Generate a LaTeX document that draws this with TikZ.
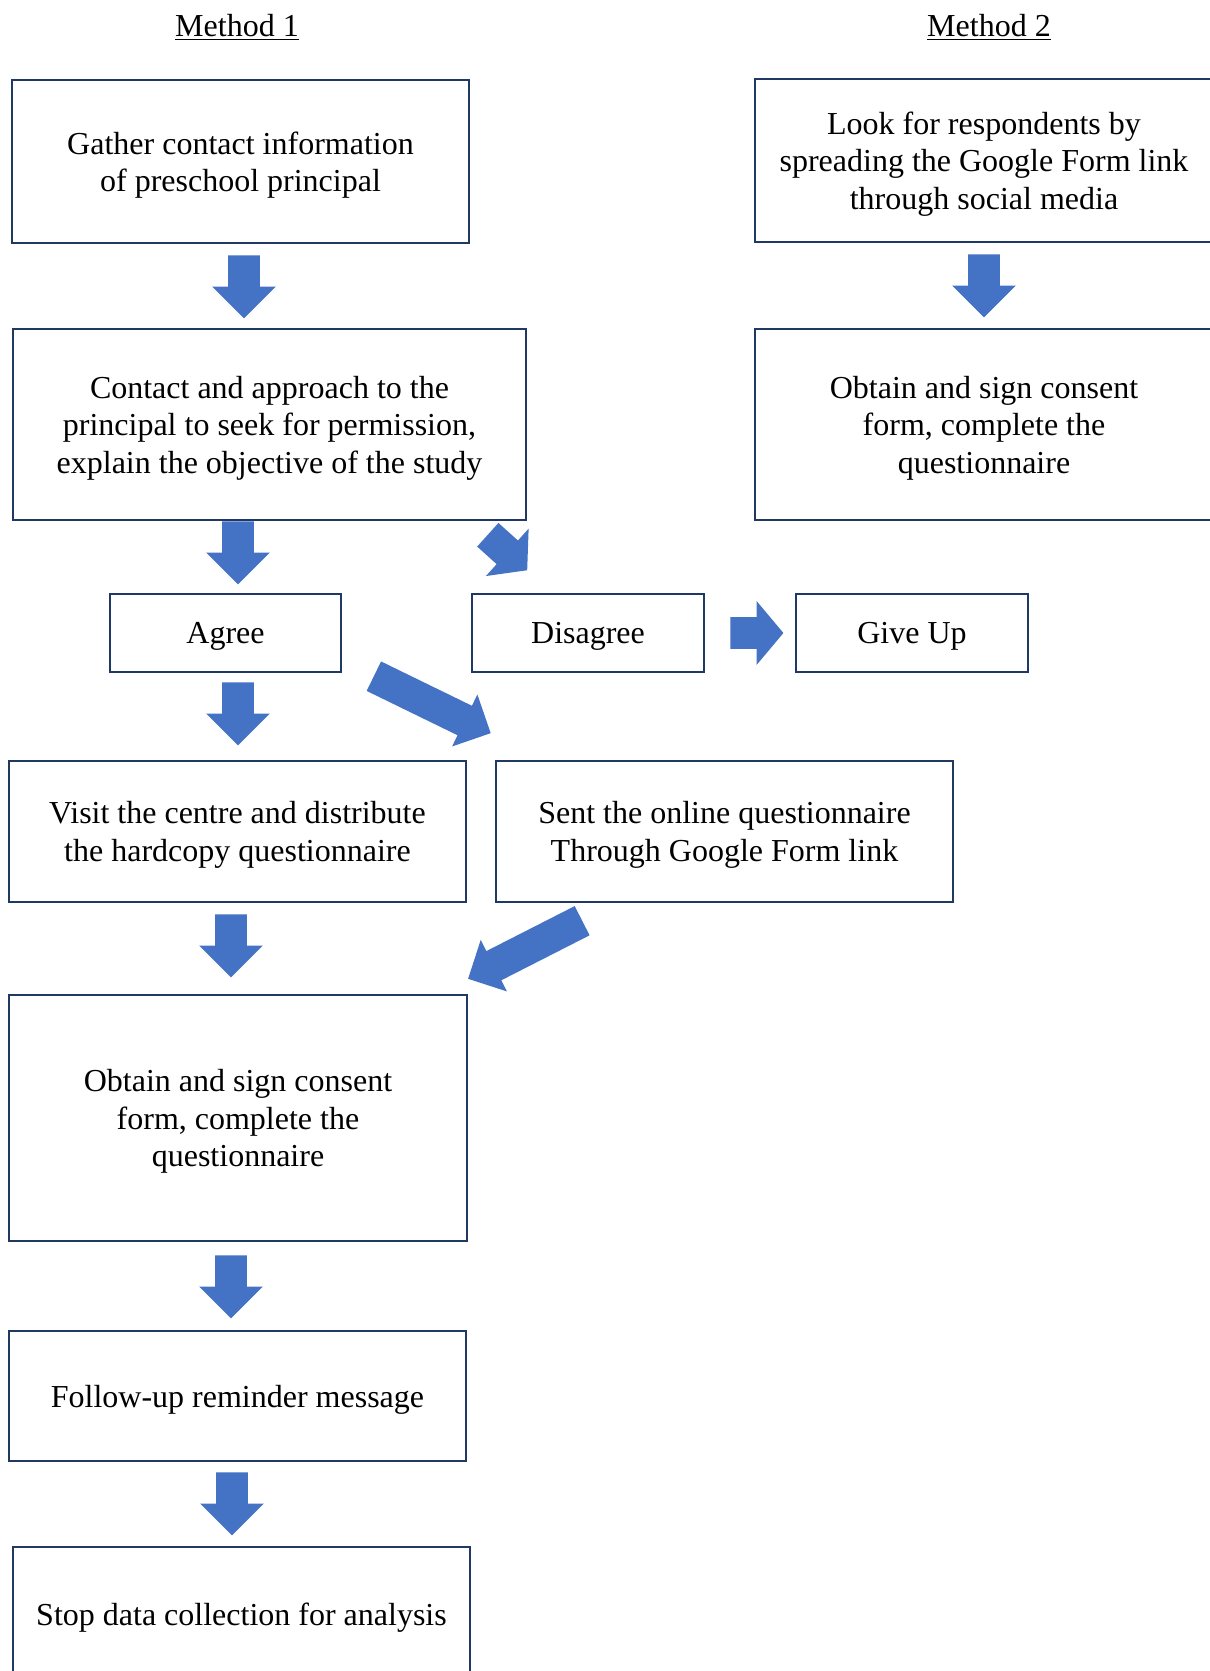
\documentclass[tikz,border=0pt]{standalone}
\usepackage{fontspec}
\setmainfont{Liberation Serif}
\usetikzlibrary{shapes, arrows, positioning}
\definecolor{boxblue}{HTML}{1F3864}
\definecolor{arrowblue}{HTML}{4472C4}
\tikzstyle{process}=[draw=boxblue,line width=1.4pt,minimum width=228.5pt,align=center,inner sep=0pt,text depth=0pt,font=\fontsize{16}{18.7}\selectfont]
\tikzstyle{choice}=[process,minimum width=116pt,minimum height=39pt]
\tikzstyle{title}=[anchor=base,inner sep=0pt,font=\fontsize{16}{18.7}\selectfont]
\tikzstyle{blockarrow}=[single arrow,anchor=tail,fill=arrowblue,draw=none,inner xsep=0pt,inner ysep=7.75pt,minimum width=31.5pt,single arrow head extend=8pt,single arrow tip angle=90,minimum height=31.5pt]

\begin{document}
\begin{tikzpicture}[x=0.5pt,y=-0.5pt]
\useasboundingbox (0,0) rectangle (1210,1671);
\clip (0,0) rectangle (1210,1671);
% Titles
\node[title] (m1) at (237,36) {\underline{Method 1}};
\node[title] (m2) at (989,36) {\underline{Method 2}};
% Method 1
\node[process,minimum height=81.5pt] (gather) at (240.5,161.5) {Gather contact information\\of preschool principal};
\node[process,minimum width=256.5pt,minimum height=95.5pt] (contact) at (269.5,424.5) {Contact and approach to the\\principal to seek for permission,\\explain the objective of the study};
\node[choice,minimum width=115.5pt] (agree) at (225.5,633) {Agree};
\node[choice] (disagree) at (588,633) {Disagree};
\node[choice] (giveup) at (912,633) {Give Up};
\node[process,minimum height=70.5pt] (visit) at (237.5,831.5) {Visit the centre and distribute\\the hardcopy questionnaire};
\node[process,minimum height=70.5pt] (sent) at (724.5,831.5) {Sent the online questionnaire\\Through Google Form link};
\node[process,minimum width=229pt,minimum height=123pt] (obtainA) at (238,1118) {Obtain and sign consent\\form, complete the\\questionnaire};
\node[process,minimum height=65pt] (follow) at (237.5,1396) {Follow-up reminder message};
\node[process,minimum height=67pt] (stop) at (241.5,1614) {Stop data collection for analysis};
% Method 2
\node[process,minimum width=229pt,minimum height=81.5pt] (look) at (984,160.5) {Look for respondents by\\spreading the Google Form link\\through social media};
\node[process,minimum width=229pt,minimum height=95.5pt] (obtainB) at (984,424.5) {Obtain and sign consent\\form, complete the\\questionnaire};
% Arrows (placed by their tails)
\node[blockarrow,rotate=-90] (a1) at (244,255) {};
\node[blockarrow,rotate=-90] (a2) at (984,254) {};
\node[blockarrow,rotate=-90] (a3) at (238,521) {};
\node[blockarrow,rotate=-90] (a4) at (238,682) {};
\node[blockarrow,rotate=-90] (a5) at (231,914) {};
\node[blockarrow,rotate=-90] (a6) at (231,1255) {};
\node[blockarrow,rotate=-90] (a7) at (232,1472) {};
\node[blockarrow,minimum height=26.5pt,single arrow tip angle=100] (a8) at (730,633) {};
\node[blockarrow,rotate=-42,minimum height=26.5pt,single arrow tip angle=100] (a9) at (487.5,534.5) {};
\node[blockarrow,rotate=-26,minimum height=65pt,minimum width=28.5pt,inner ysep=8pt,single arrow head extend=6.25pt] (a10) at (373.5,676) {};
\node[blockarrow,rotate=207,minimum height=64pt,minimum width=28.5pt,inner ysep=8pt,single arrow head extend=6.25pt] (a11) at (582.5,920.5) {};
\end{tikzpicture}
\end{document}
